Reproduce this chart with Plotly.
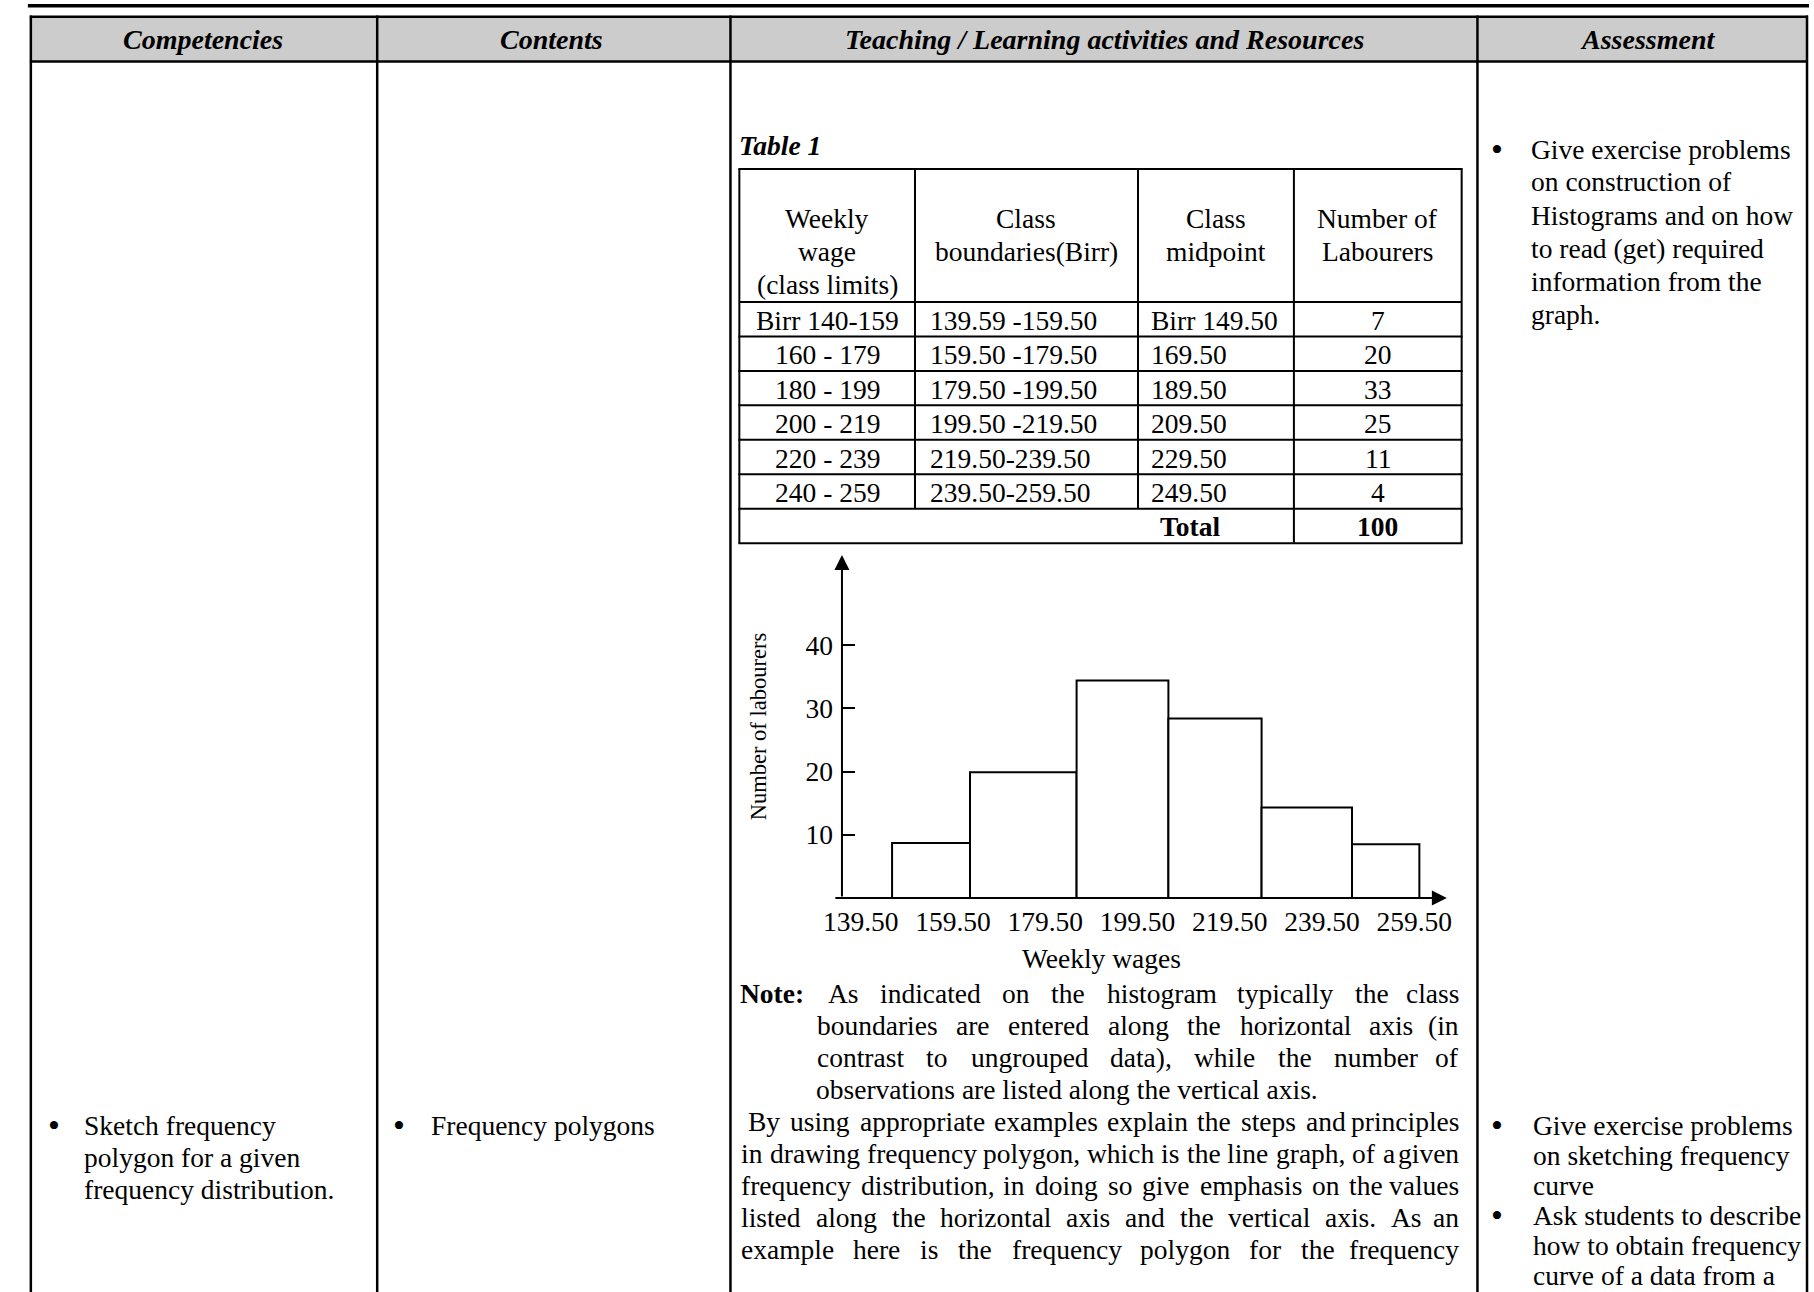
import plotly.graph_objects as go

W, H = 1814, 1292
FONT = "Liberation Serif, Times New Roman, Times, serif"
FS = 27.5

# ---------------- data ----------------
column_headers = ["Competencies", "Contents",
                  "Teaching / Learning activities and Resources", "Assessment"]
table_title = "Table 1"
table_header = [["Weekly", "wage", "(class limits)"],
                ["Class", "boundaries(Birr)"],
                ["Class", "midpoint"],
                ["Number of", "Labourers"]]
class_limits = ["Birr 140-159", "160 - 179", "180 - 199", "200 - 219", "220 - 239", "240 - 259"]
class_boundaries = ["139.59 -159.50", "159.50 -179.50", "179.50 -199.50",
                    "199.50 -219.50", "219.50-239.50", "239.50-259.50"]
class_midpoints = ["Birr 149.50", "169.50", "189.50", "209.50", "229.50", "249.50"]
labourers = [7, 20, 33, 25, 11, 4]
total_label = "Total"

# histogram
hist_tick_values = [139.5, 159.5, 179.5, 199.5, 219.5, 239.5, 259.5]
hist_tick_labels = ["139.50", "159.50", "179.50", "199.50", "219.50", "239.50", "259.50"]
bar_left = [146.3, 163.2, 186.3, 206.2, 226.4, 246.0]
bar_right = [163.2, 186.3, 206.2, 226.4, 246.0, 260.6]
bar_height = [8.7, 19.9, 34.4, 28.4, 14.3, 8.5]
y_tick_values = [10, 20, 30, 40]
y_tick_labels = ["10", "20", "30", "40"]
x_title = "Weekly wages"
y_title = "Number of labourers"

note_lines = ["As indicated on the histogram typically the class",
              "boundaries are entered along the horizontal axis (in",
              "contrast to ungrouped data), while the number of",
              "observations are listed along the vertical axis."]
para_lines = ["By using appropriate examples explain the steps and principles",
              "in drawing frequency polygon, which is the line graph, of a given",
              "frequency distribution, in doing so give emphasis on the values",
              "listed along the horizontal axis and the vertical axis. As an",
              "example here is the frequency polygon for the frequency"]
competency_lines = ["Sketch frequency", "polygon for a given", "frequency distribution."]
content_lines = ["Frequency polygons"]
assess_top = ["Give exercise problems", "on construction of", "Histograms and on how",
              "to read (get) required", "information from the", "graph."]
assess_b1 = ["Give exercise problems", "on sketching frequency", "curve"]
assess_b2 = ["Ask students to describe", "how to obtain frequency", "curve of a data from a"]

# ---------------- helpers ----------------
CHAR_W = {' ': 250, '.': 250, ',': 250, '(': 333, ')': 333, '-': 333, ':': 278, '/': 278}
CHAR_W.update({c: w for c, w in zip("abcdefghijklmnopqrstuvwxyz",
              [444, 500, 444, 500, 444, 333, 500, 500, 278, 278, 500, 278, 778, 500, 500,
               500, 500, 333, 389, 278, 500, 500, 722, 500, 500, 444])})
CHAR_W.update({c: w for c, w in zip("ABCDEFGHIJKLMNOPQRSTUVWXYZ",
              [722, 667, 667, 722, 611, 556, 722, 722, 333, 389, 722, 611, 889, 722, 722,
               556, 722, 667, 556, 611, 722, 722, 944, 722, 722, 611])})
for d in "0123456789":
    CHAR_W[d] = 500


def tw(s, size=FS):
    return sum(CHAR_W.get(c, 500) for c in s) / 1000.0 * size


def px(x):
    return x / W


def py(y):
    return 1 - y / H


annotations = []
shapes = []


def txt(text, x, y, anchor="left", size=FS, **kw):
    annotations.append(dict(xref="paper", yref="paper", x=px(x), y=py(y), xanchor=anchor,
                            yanchor="middle", text=text, showarrow=False,
                            font=dict(family=FONT, size=size, color="black"), **kw))


def justified(line, x0, x1, y):
    words = line.split()
    ws = [tw(w) for w in words]
    gap = (x1 - x0 - sum(ws)) / (len(words) - 1)
    x = x0
    for i, (w, wd) in enumerate(zip(words, ws)):
        if i == len(words) - 1:
            txt(w, x1, y, "right")
        else:
            txt(w, x, y, "left")
        x += wd + gap


def hline(y, x0, x1, w=2):
    shapes.append(dict(type="line", xref="paper", yref="paper", x0=px(x0), x1=px(x1),
                       y0=py(y), y1=py(y), line=dict(color="black", width=w)))


def vline(x, y0, y1, w=2):
    shapes.append(dict(type="line", xref="paper", yref="paper", x0=px(x), x1=px(x),
                       y0=py(y0), y1=py(y1), line=dict(color="black", width=w)))


BULLET = 34

# ---------------- page frame ----------------
shapes.append(dict(type="rect", xref="paper", yref="paper", x0=px(9), x1=px(1814),
                   y0=py(4), y1=py(7.5), fillcolor="black", line=dict(width=0)))
shapes.append(dict(type="rect", xref="paper", yref="paper", x0=px(12), x1=px(1812),
                   y0=py(16.7), y1=py(61.5), fillcolor="#cccccc", line=dict(width=0),
                   layer="below"))
hline(16.7, 11, 1813, 2.5)
hline(61.5, 11, 1813, 2.5)
for xc in [12, 363, 721, 1478, 1812]:
    vline(xc, 15.5, H, 2.5)

header_x = [186, 540, 1100, 1650]
for t, xc in zip(column_headers, header_x):
    txt("<b><i>%s</i></b>" % t, xc, 39, "center", size=28)

# ---------------- inner table ----------------
txt("<b><i>%s</i></b>" % table_title, 728, 146, "left", size=27.5)
cols = [730, 908, 1134, 1292, 1462]
t_top, h_bot, row_h = 169, 302, 34.45
n_rows = len(class_limits)
row_lines = [h_bot + row_h * (i + 1) for i in range(n_rows + 1)]
t_bot = row_lines[-1]
hline(t_top, cols[0] - 1, cols[-1] + 1)
hline(h_bot, cols[0], cols[-1])
for yl in row_lines:
    hline(yl, cols[0] - 1, cols[-1] + 1)
vline(cols[0], t_top, t_bot)
vline(cols[-1], t_top, t_bot)
vline(cols[1], t_top, row_lines[-2])
vline(cols[2], t_top, row_lines[-2])
vline(cols[3], t_top, t_bot)

for ci, lines in enumerate(table_header):
    xc = (cols[ci] + cols[ci + 1]) / 2
    for li, s in enumerate(lines):
        txt(s, xc, 219 + 32.5 * li, "center", size=27.5)

for i in range(n_rows):
    yc = h_bot + row_h * (i + 0.5) + 1
    txt(class_limits[i], (cols[0] + cols[1]) / 2, yc, "center")
    txt(class_boundaries[i], cols[1] + 13, yc, "left")
    txt(class_midpoints[i], cols[2] + 11, yc, "left")
    txt(str(labourers[i]), (cols[3] + cols[4]) / 2, yc, "center")
yc = row_lines[-2] + row_h / 2 + 1
txt("<b>%s</b>" % total_label, 1187, yc, "center")
txt("<b>%d</b>" % sum(labourers), (cols[3] + cols[4]) / 2, yc, "center")

# ---------------- histogram ----------------
ax_x0, ax_x1, ax_y0, ax_y1 = 834, 1447, 898, 555
fig = go.Figure()
fig.add_trace(go.Bar(
    x=[(l + r) / 2 for l, r in zip(bar_left, bar_right)],
    y=bar_height,
    width=[r - l for l, r in zip(bar_left, bar_right)],
    marker=dict(color="white", line=dict(color="black", width=2)),
    showlegend=False, hoverinfo="skip"))

# axis arrows
annotations.append(dict(xref="paper", yref="paper", x=px(ax_x0), y=py(ax_y1), text="",
                        showarrow=True, ax=0, ay=ax_y0 - ax_y1, axref="pixel", ayref="pixel",
                        arrowhead=2, arrowsize=1.5, arrowwidth=2, arrowcolor="black", standoff=0))
annotations.append(dict(xref="paper", yref="paper", x=px(ax_x1), y=py(ax_y0), text="",
                        showarrow=True, ax=-(ax_x1 - ax_x0), ay=0, axref="pixel", ayref="pixel",
                        arrowhead=2, arrowsize=1.5, arrowwidth=2, arrowcolor="black", standoff=0))
txt(x_title, 1097, 958, "center")

# ---------------- note & paragraph ----------------
RIGHT = 1461
ly = [993 + 32 * k for k in range(9)]
txt("<b>Note:</b>", 729, ly[0], "left")
justified(note_lines[0], 818, RIGHT, ly[0])
justified(note_lines[1], 807, RIGHT, ly[1])
justified(note_lines[2], 807, RIGHT, ly[2])
txt(note_lines[3], 806, ly[3], "left")
justified(para_lines[0], 737, RIGHT, ly[4])
for k in range(1, 5):
    justified(para_lines[k], 730, RIGHT, ly[4 + k])

# ---------------- other columns ----------------
y_row2 = 1125
txt("\u2022", 35, y_row2, "center", size=BULLET)
for k, s in enumerate(competency_lines):
    txt(s, 64, y_row2 + 32 * k, "left")
txt("\u2022", 385, y_row2, "center", size=BULLET)
for k, s in enumerate(content_lines):
    txt(s, 416, y_row2 + 32 * k, "left")

txt("\u2022", 1498, 149, "center", size=BULLET)
for k, s in enumerate(assess_top):
    txt(s, 1530, 149 + 33 * k, "left")

yb = [y_row2 + 30 * k for k in range(6)]
txt("\u2022", 1498, yb[0], "center", size=BULLET)
txt("\u2022", 1498, yb[3], "center", size=BULLET)
for k, s in enumerate(assess_b1 + assess_b2):
    txt(s, 1532, yb[k], "left")

# ---------------- layout ----------------
axis_font = dict(family=FONT, size=FS, color="black")
fig.update_layout(
    width=W, height=H, autosize=False,
    margin=dict(l=0, r=0, t=0, b=0, pad=0),
    paper_bgcolor="white", plot_bgcolor="white",
    showlegend=False,
    xaxis=dict(domain=[px(ax_x0), px(ax_x1)], range=[135.44, 266.56],
               tickmode="array", tickvals=hist_tick_values, ticktext=hist_tick_labels,
               ticks="", showline=False, showgrid=False, zeroline=False,
               tickfont=axis_font, fixedrange=True, ticklabelstandoff=4),
    yaxis=dict(domain=[py(ax_y0), py(ax_y1)], range=[0, 54.27],
               tickmode="array", tickvals=y_tick_values, ticktext=y_tick_labels,
               ticks="inside", ticklen=13, tickwidth=2, tickcolor="black",
               showline=False, showgrid=False, zeroline=False,
               tickfont=axis_font, fixedrange=True, ticklabelstandoff=8,
               title=dict(text=y_title, font=dict(family=FONT, size=22.5, color="black"),
                          standoff=32)),
    shapes=shapes,
    annotations=annotations,
)

fig.write_html("out.html", config={"displayModeBar": False},
               post_script="document.body.style.margin='0';document.body.style.overflow='hidden';")
